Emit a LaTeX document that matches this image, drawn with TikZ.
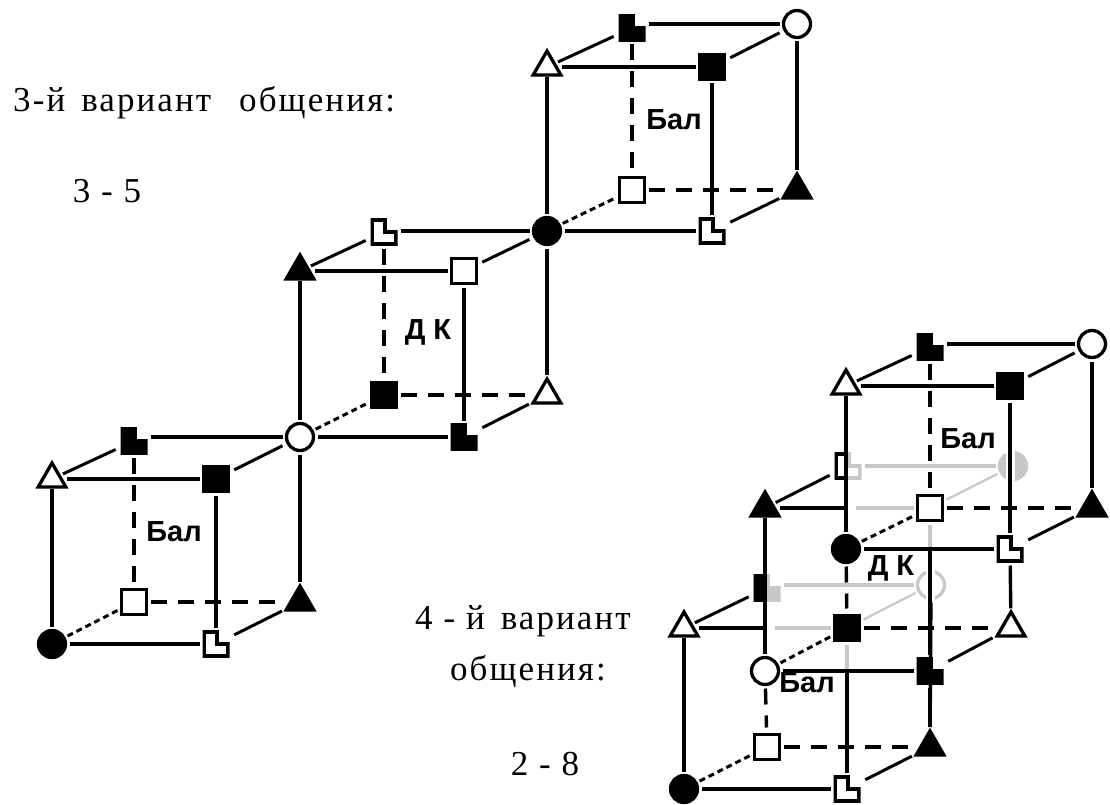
\documentclass[tikz,border=0pt]{standalone}
\usepackage{fontspec}
\setmainfont{Liberation Serif}
\setsansfont{Liberation Sans}
\usetikzlibrary{shapes.geometric}
\definecolor{gris}{HTML}{C8C8C8}
\newcommand{\coinpath}{(-12,-12) -- (1,-12) -- (1,0) -- (12,0) -- (12,12) -- (-12,12) -- cycle}

\begin{document}
\begin{tikzpicture}[x=1pt,y=-1pt]
% style des marques
\tikzstyle{marque} = [inner sep=0pt, outer sep=4pt, line width=3.3pt]
\tikzstyle{triO} = [marque, outer sep=2pt, regular polygon, regular polygon sides=3, minimum size=32pt, draw, fill=white]
\tikzstyle{triN} = [triO, fill=black]
\tikzstyle{carO} = [marque, rectangle, minimum size=25pt, draw, fill=white]
\tikzstyle{carN} = [carO, fill=black]
\tikzstyle{rondO} = [marque, circle, minimum size=27pt, draw, fill=white]
\tikzstyle{rondN} = [rondO, fill=black]
\tikzstyle{rondG} = [marque, circle, minimum size=27pt, draw=gris, fill=gris]
\tikzstyle{coin} = [marque, rectangle, minimum size=27pt, outer sep=3pt]
\tikzstyle{coinO} = [coin, path picture={\draw[line width=3.3pt] \coinpath;}]
\tikzstyle{coinN} = [coin, path picture={\filldraw[line width=3.3pt] \coinpath;}]
\tikzstyle{coinG} = [coin, path picture={\filldraw[gris, line width=3.3pt] \coinpath;}]
\tikzstyle{coinL} = [coin, path picture={\draw[gris, line width=3.3pt] \coinpath;}]
% style des traits
\tikzstyle{plein} = [line width=3.4pt]
\tikzstyle{biais} = [line width=3pt, shorten <=2pt, shorten >=2pt]
\tikzstyle{tirets} = [line width=3.4pt, dash pattern=on 16pt off 11pt, shorten >=3pt]
\tikzstyle{points} = [line width=3pt, dash pattern=on 6pt off 4pt]
\tikzstyle{pale} = [line width=3.3pt, gris]
\tikzstyle{palefin} = [line width=2.2pt, gris]
\tikzstyle{halo} = [line width=9pt, white]
% style des textes
\tikzstyle{titre} = [inner sep=0pt, anchor=base, font=\fontsize{35}{40}\selectfont\addfontfeatures{LetterSpace=6}]
\tikzstyle{etiq} = [inner sep=0pt, anchor=base, font=\sffamily\bfseries\fontsize{29}{32}\selectfont]

\useasboundingbox (0,0) rectangle (1110,805);

%% cube a
\node[triO] (a1) at (52,479) {};
\node[carN] (a2) at (216,479) {};
\node[coinN] (a3) at (134,441) {};
\node[rondO] (a4) at (300,437) {};
\node[rondN] (a5) at (52,644) {};
\node[coinO] (a6) at (216,644) {};
\node[carO] (a7) at (134,602) {};
\node[triN] (a8) at (300,602) {};
%% cube b
\node[triN] (b1) at (300,271) {};
\node[carO] (b2) at (464,271) {};
\node[coinO] (b3) at (384,232) {};
\node[rondN] (b4) at (547,231) {};
\node[coinN] (b6) at (464,437) {};
\node[carN] (b7) at (384,395) {};
\node[triO] (b8) at (547,395) {};
%% cube c
\node[triO] (c1) at (547,67) {};
\node[carN] (c2) at (712,67) {};
\node[coinN] (c3) at (632,28) {};
\node[rondO] (c4) at (797,24) {};
\node[coinO] (c6) at (712,231) {};
\node[carO] (c7) at (632,190) {};
\node[triN] (c8) at (797,190) {};
%% cube e
\node[triO] (e1) at (684,628) {};
\node[carN] (e2) at (847,628) {};
\node[coinG] (e3) at (767,588) {};
\node[rondO, draw=gris] (e4) at (931,585) {};
\node[rondN] (e5) at (684,789) {};
\node[coinO] (e6) at (847,789) {};
\node[carO] (e7) at (767,747) {};
\node[triN] (e8) at (930,747) {};
%% cube f
\node[triN] (f1) at (765,508) {};
\node[carO] (f2) at (930,508) {};
\node[coinL] (f3) at (848,466) {};
\node[rondG] (f4) at (1013,466) {};
\node[rondO] (f5) at (765,671) {};
\node[coinN] (f6) at (930,671) {};
\node[triO] (f8) at (1011,628) {};
%% cube g
\node[triO] (g1) at (846,386) {};
\node[carN] (g2) at (1010,386) {};
\node[coinN] (g3) at (930,347) {};
\node[rondO] (g4) at (1092,344) {};
\node[rondN] (g5) at (846,549) {};
\node[coinO] (g6) at (1010,549) {};
\node[triN] (g8) at (1092,508) {};
%% parties noires des coins caches
\begin{scope}
\clip (820,440) rectangle (846,490);
\node[coinO] (f3n) at (848,466) {};
\end{scope}
\begin{scope}
\clip (740,560) rectangle (766,620);
\node[coinN] (e3n) at (767,588) {};
\end{scope}

%% placement des traits pales
\draw[pale] (e1 -| f1) ++(10,0) -- (e2);
\draw[pale] (f1 -| g1) ++(10,0) -- (f2);
\draw[pale] (e3.east |- e4) -- (e4);
\draw[pale] (f3) -- (f4);
\draw[palefin] (e4) -- (e2);
\draw[palefin] (f4) -- (f2);
\draw[pale] (e2) -- (e2 |- f5);
\draw[pale] (f2) -- (f2 |- g5);
\draw[halo] (g2) -- (g6);
\draw[halo] (f2 |- g5) -- (f6);

%% placement des traits
\foreach \p/\q in {a5/a6,a1/a5,a2/a6,a4/a8,
    a4/b6,b1/a4,b2/b6,b4/b8,
    b4/c6,c1/b4,c2/c6,c4/c8,
    e5/e6,e1/e5,e4/e8,
    f1/f5,f5/f6,g1/g5,g2/g6,g4/g8,g5/g6,f8/g6}
    \draw[plein] (\p) -- (\q);
\foreach \p/\q in {a1/a2,b1/b2,c1/c2,g1/g2}
    \draw[plein, shorten <=3pt] (\p) -- (\q);
\foreach \p/\q in {a3/a4,b3/b4,c3/c4,g3/g4}
    \draw[plein] (\p.east |- \q) -- (\q);
\draw[plein, shorten <=3pt] (e1) -- (e1 -| f1);
\draw[plein, shorten <=3pt] (f1) -- (f1 -| g1);
\draw[plein] (e2 |- f5) -- (e6);
\draw[plein] (f2 |- g5) -- (f6);
\draw[plein] (f6) -- (e8);
\foreach \p/\q in {a1/a3,a2/a4,a6/a8,b1/b3,b2/b4,b6/b8,c1/c3,c2/c4,c6/c8,
    e1/e3,e6/e8,f1/f3,f6/f8,g1/g3,g2/g4,g6/g8}
    \draw[biais] (\p) -- (\q);
\foreach \p/\q in {a3/a7,a7/a8,b3/b7,b7/b8,c3/c7,c7/c8,e7/e8,f5/e7,e2/f8,f2/g8,g3/f2,g5/e2}
    \draw[tirets] (\p) -- (\q);
\foreach \p/\q in {a5/a7,a4/b7,b4/c7,e5/e7,f5/e2,g5/f2}
    \draw[points] (\p) -- (\q);

%% placement des textes
\node[titre, anchor=base west] (t1) at (13,112) {3-й\hspace{16pt}вариант\hspace{28pt}общения:};
\node[titre] (t2) at (107,203) {3 - 5};
\node[titre, anchor=base west] (t3) at (415,629) {4 - й\hspace{16pt}вариант};
\node[titre] (t4) at (528,680) {общения:};
\node[titre] (t5) at (545,775) {2 - 8};
\node[etiq] (n1) at (674,130) {Бал};
\node[etiq] (n2) at (428,339) {Д К};
\node[etiq] (n3) at (174,541) {Бал};
\node[etiq] (n4) at (968,448) {Бал};
\node[etiq] (n5) at (891,575) {Д К};
\node[etiq] (n6) at (807,692) {Бал};
\end{tikzpicture}
\end{document}
